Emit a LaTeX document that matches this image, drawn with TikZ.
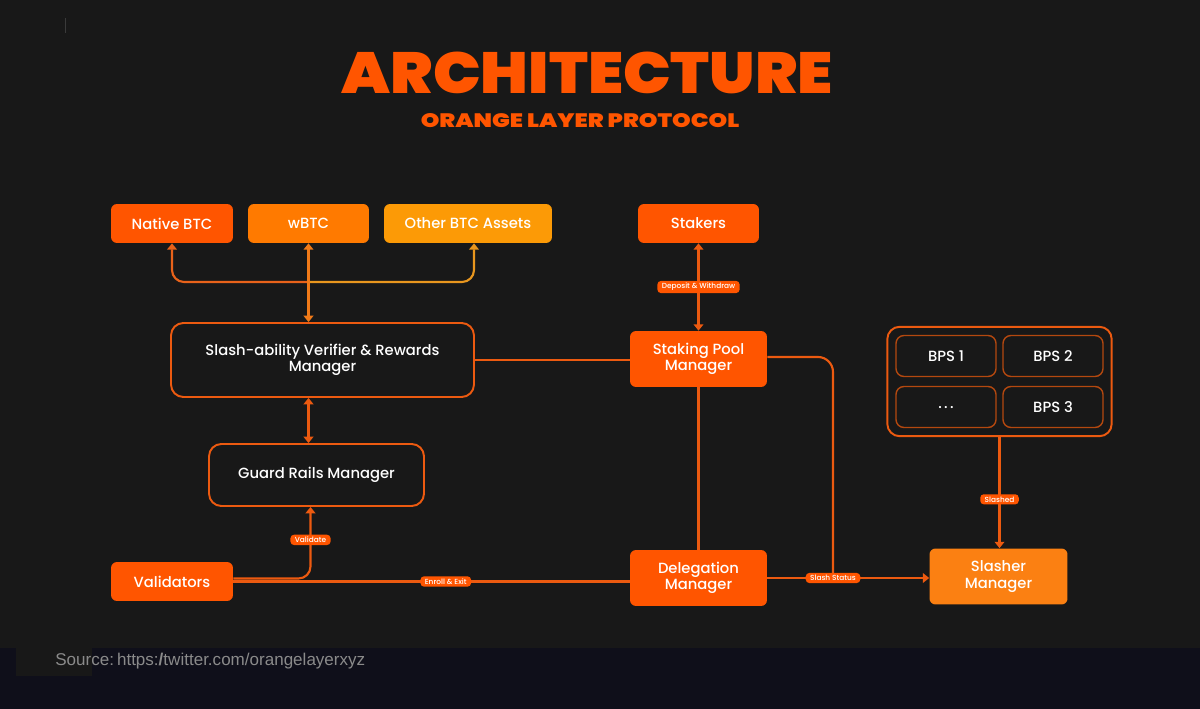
\documentclass[tikz,border=0pt]{standalone}
\usepackage{fontspec}
\usepackage{graphicx}
\setmainfont{Poppins Medium}
\newfontfamily\srcfont{Liberation Sans}
\newfontfamily\titlefont{Poppins Black}
\usetikzlibrary{arrows.meta, positioning, fit}

\definecolor{bgdark}{HTML}{181818}
\definecolor{bgnavy}{HTML}{0F0F1A}
\definecolor{olred}{HTML}{FF5500}
\definecolor{olmid}{HTML}{FF7A00}
\definecolor{olamber}{HTML}{FC9A06}
\definecolor{olslash}{HTML}{FB8012}
\definecolor{olline}{HTML}{EC5A10}
\definecolor{oldim}{HTML}{B4480F}
\definecolor{treeleft}{HTML}{E8621A}
\definecolor{treeright}{HTML}{E8961E}
\definecolor{treemid}{HTML}{F07A18}
\definecolor{srcgray}{HTML}{8A8A8A}
\definecolor{markgray}{HTML}{3A3A3A}

\newcommand{\nodefont}{\fontsize{8.4}{9.2}\selectfont}
\newcommand{\pillfont}{\fontsize{4.2}{4.2}\selectfont}

\tikzset{
  fillbox/.style={rounded corners=3.4pt, minimum height=0.78cm, inner sep=0pt,
    text=white, font=\nodefont, align=center},
  linebox/.style={draw=olline, line width=1.1pt, rounded corners=7pt, inner sep=0pt,
    text=white, font=\nodefont, align=center},
  bpsbox/.style={draw=oldim, line width=0.8pt, rounded corners=4.5pt, inner sep=0pt,
    minimum width=2.0cm, minimum height=0.82cm, text=white, font=\nodefont},
  groupbox/.style={draw=olline, line width=1.1pt, rounded corners=7pt, inner sep=0.16cm},
  pill/.style={fill=olred, rounded corners=2pt, inner xsep=2.5pt, inner ysep=1.3pt,
    text=white, font=\pillfont},
  conn/.style={draw=olline, line width=1.2pt},
  tipend/.style={-{Triangle[width=5.5pt, length=3.6pt]}},
  tipboth/.style={{Triangle[width=5.5pt, length=3.6pt]}-{Triangle[width=5.5pt, length=3.6pt]}}
}

\begin{document}
\begin{tikzpicture}[x=0.02cm, y=-0.02cm]
  % background
  \fill[bgdark] (0,0) rectangle (1200,709);
  \fill[bgnavy] (0,648) rectangle (1200,709);
  \fill[bgdark] (16,648) rectangle (92,676);
  \draw[markgray, line width=0.6pt] (65.5,18) -- (65.5,33);
  \useasboundingbox (0,0) rectangle (1200,709);

  % heading
  \node[inner sep=0pt, text=olred] (title) at (587.5,72.5)
    {\resizebox{9.82cm}{0.83cm}{\titlefont ARCHITECTURE}};
  \node[inner sep=0pt, text=olred] (subtitle) at (580,120.3)
    {\resizebox{6.37cm}{0.28cm}{\titlefont ORANGE LAYER PROTOCOL}};

  % assets
  \node[fillbox, fill=olred, minimum width=2.44cm] (native) at (172,223.5) {Native BTC};
  \node[fillbox, fill=olmid, minimum width=2.42cm] (wbtc) at (308.5,223.5) {wBTC};
  \node[fillbox, fill=olamber, minimum width=3.36cm] (other) at (468,223.5) {Other BTC Assets};
  \node[fillbox, fill=olred, minimum width=2.42cm] (stakers) at (698.5,223.5) {Stakers};

  % managers
  \node[linebox, minimum width=6.06cm, minimum height=1.48cm] (verifier) at (322.5,360)
    {Slash-ability Verifier \& Rewards\\Manager};
  \node[linebox, minimum width=4.3cm, minimum height=1.24cm] (guard) at (316.5,475)
    {Guard Rails Manager};
  \node[fillbox, fill=olred, minimum width=2.74cm, minimum height=1.12cm] (pool) at (698.5,359)
    {Staking Pool\\Manager};
  \node[fillbox, fill=olred, minimum width=2.44cm] (validators) at (172,581.5) {Validators};
  \node[fillbox, fill=olred, minimum width=2.74cm, minimum height=1.12cm] (delegation) at (698.5,578)
    {Delegation\\Manager};
  \node[fillbox, fill=olslash, minimum width=2.76cm, minimum height=1.12cm] (slasher) at (998.5,576.5)
    {Slasher\\Manager};

  % BPS group
  \node[bpsbox] (bps1) at (946,356) {BPS 1};
  \node[bpsbox] (bps2) at (1053,356) {BPS 2};
  \node[bpsbox] (bpsmore) at (946,407) {\raisebox{-1.5pt}{.\kern1.3pt.\kern1.3pt.}};
  \node[bpsbox] (bps3) at (1053,407) {BPS 3};
  \node[groupbox, fit=(bps1)(bps3)] (bpsgroup) {};

  % asset tree
  \coordinate (fork) at (308.5,282);
  \draw[conn, draw=treeleft, tipend, rounded corners=0.24cm] (fork) -| (native.south);
  \draw[conn, draw=treeright, tipend, rounded corners=0.24cm] (fork) -| ([xshift=0.12cm]other.south);
  \draw[conn, draw=treemid, tipboth] (verifier.north -| wbtc.south) -- (wbtc.south);

  % links
  \draw[conn] (verifier.east) -- (pool.west |- verifier.east);
  \draw[conn, tipboth] (stakers.south) -- (pool.north)
    node[pill, midway] {Deposit \& Withdraw};
  \draw[conn, tipboth] (verifier.south -| wbtc.south) -- (guard.north -| wbtc.south);
  \draw[conn, tipend, rounded corners=0.24cm] ([yshift=0.06cm]validators.east)
    -| ([xshift=-0.12cm]guard.south) node[pill, pos=0.77] {Validate};
  \draw[conn] (validators.east) -- (delegation.west |- validators.east)
    node[pill, pos=0.536] {Enroll \& Exit};
  \draw[conn] (pool.south) -- (delegation.north);
  \coordinate (status) at (833,578);
  \draw[conn, rounded corners=0.3cm] ([yshift=0.04cm]pool.east) -| (status);
  \draw[conn, tipend] (delegation.east) -- (status) node[pill] {Slash Status}
    -- (slasher.west |- status);
  \draw[conn, tipend] (bpsgroup.south) -- (slasher.north -| bpsgroup.south)
    node[pill, pos=0.56] {Slashed};

  % source line
  \node[anchor=base west, inner sep=0pt, text=srcgray, font=\srcfont\fontsize{9.7}{10}\selectfont]
    (source) at (55,665.7) {Source:\kern-1pt\ https:\textbf{/}twitter.com/orangelayerxyz};
\end{tikzpicture}
\end{document}
